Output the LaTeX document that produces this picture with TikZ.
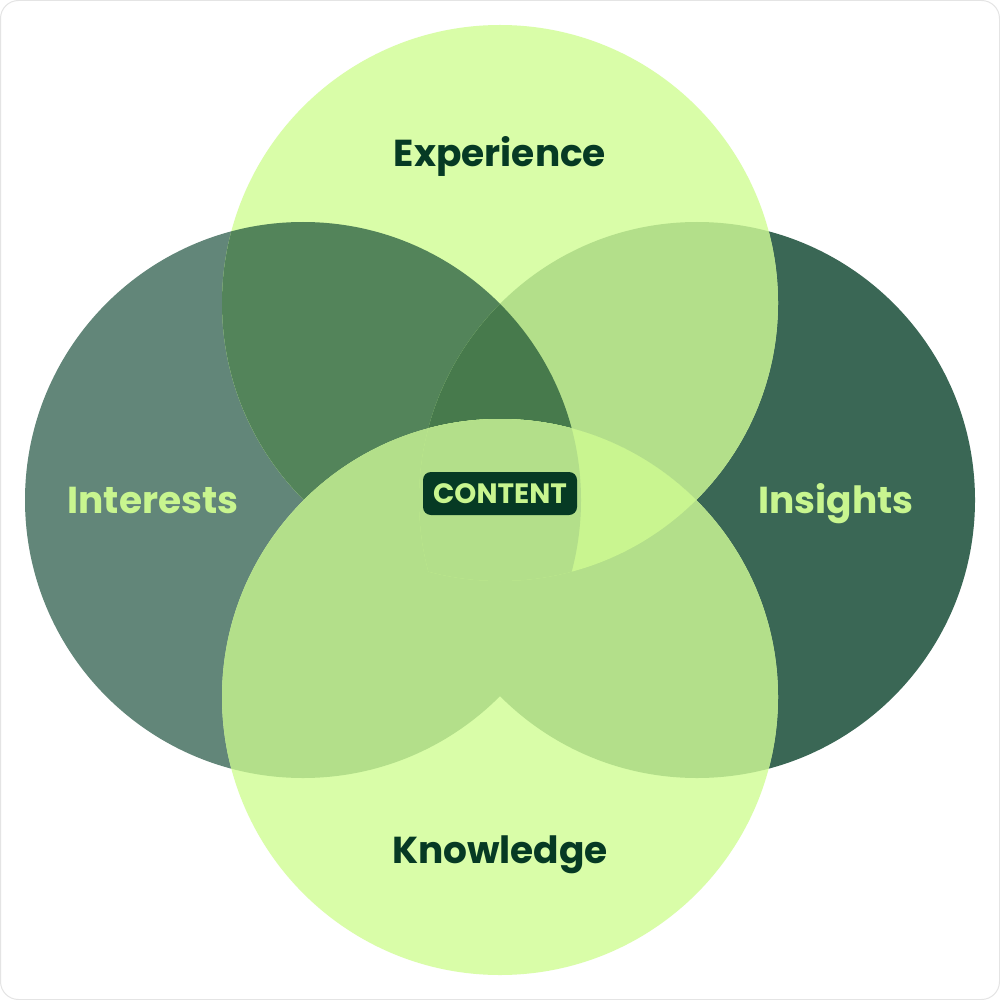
\documentclass[tikz,border=0pt]{standalone}
\usepackage{fontspec}
\setmainfont{Poppins}
\definecolor{light}{HTML}{D9FDA8}
\definecolor{leftc}{HTML}{628679}
\definecolor{rightc}{HTML}{3A6755}
\definecolor{tl}{HTML}{53845A}
\definecolor{mid}{HTML}{B3DF8A}
\definecolor{tlr}{HTML}{477A4C}
\definecolor{bright}{HTML}{C9F590}
\definecolor{darktext}{HTML}{063A24}
\definecolor{lighttext}{HTML}{C8F58F}
\definecolor{frame}{HTML}{E4E4E4}
\begin{document}
\begin{tikzpicture}[x=1pt,y=-1pt,
  label/.style={font=\fontsize{37.5}{40}\selectfont\bfseries, anchor=base, inner sep=0pt},
  tag/.style={fill=darktext, rounded corners=8pt, minimum width=154pt, minimum height=43pt, inner sep=0pt,
     text=lighttext, font=\fontsize{28}{30}\selectfont\bfseries}]
\useasboundingbox (0,0) rectangle (1000,1000);
\draw[frame, fill=white, line width=1pt, rounded corners=18pt] (0.5,0.5) rectangle (999.5,999.5);
\def\rr{278}
\def\T{(500,303) circle[radius=\rr]}
\def\L{(303,500) circle[radius=\rr]}
\def\R{(697,500) circle[radius=\rr]}
\def\B{(500,697) circle[radius=\rr]}
% side circles
\fill[leftc] \L;
\fill[rightc] \R;
% top circle
\fill[light] \T;
\begin{scope}\clip \T; \fill[tl] \L; \fill[mid] \R;
  \begin{scope}\clip \L; \fill[tlr] \R; \end{scope}
\end{scope}
% bottom circle
\fill[light] \B;
\begin{scope}\clip \B; \fill[mid] \L; \fill[mid] \R; \fill[mid] \T;
  \begin{scope}\clip \T; \clip \R; \fill[bright] (0,0) rectangle (1000,1000);
    \fill[mid] \L;
  \end{scope}
\end{scope}
% labels
\node[label, text=darktext] (exp) at (500,167) {Experience};
\node[label, text=lighttext] (int) at (153,513) {Interests};
\node[label, text=lighttext] (ins) at (836,513) {Insights};
\node[label, text=darktext] (kno) at (500,863) {Knowledge};
\node[tag] (con) at (500,493.5) {CONTENT};
\end{tikzpicture}
\end{document}
